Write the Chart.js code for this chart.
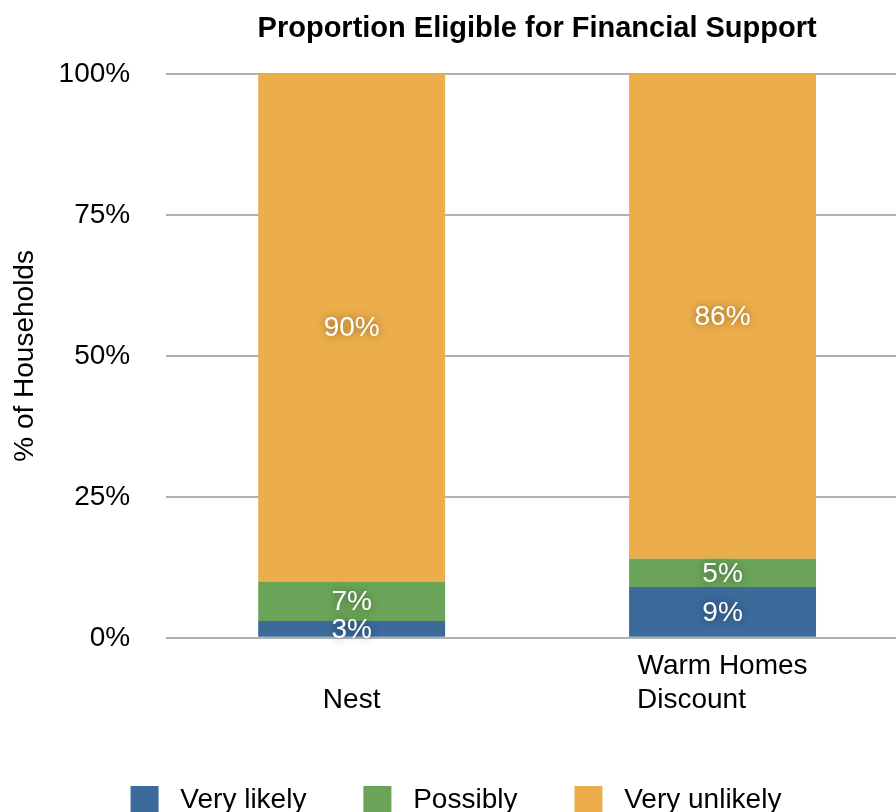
<html>
<head>
  <title>Proportion Eligible for Financial Support</title>
  <style>
    html, body { margin: 0; padding: 0; overflow: hidden; background: #fff; }
    #wrap { width: 910px; height: 824px; }
  </style>
</head>
<body>
<div id="wrap"><canvas id="barChart"></canvas></div>
<script src="https://cdn.jsdelivr.net/npm/chart.js"></script>
<script>
  // data
  const categories = ['Nest', ['Warm Homes', 'Discount']];
  const seriesNames = ['Very likely', 'Possibly', 'Very unlikely'];
  const veryLikely = [3, 9];
  const possibly = [7, 5];
  const veryUnlikely = [90, 86];
  const yTicks = [0, 25, 50, 75, 100];

  const colors = ['#3b6a9b', '#6ba458', '#ecae4b'];
  const FONT = '"Liberation Sans", Arial, Helvetica, sans-serif';

  // value labels inside each segment, white with soft shadow
  const segmentLabels = {
    id: 'segmentLabels',
    afterDatasetsDraw(chart) {
      const ctx = chart.ctx;
      ctx.save();
      ctx.font = '28px ' + FONT;
      ctx.fillStyle = '#fff';
      ctx.textAlign = 'center';
      ctx.textBaseline = 'middle';
      ctx.shadowColor = 'rgba(0,0,0,0.45)';
      ctx.shadowBlur = 8;
      chart.data.datasets.forEach((ds, i) => {
        chart.getDatasetMeta(i).data.forEach((bar, j) => {
          ctx.fillText(ds.data[j] + '%', bar.x, (bar.y + bar.base) / 2 + 1);
        });
      });
      ctx.restore();
    }
  };

  // title centred over the plot area
  const plotTitle = {
    id: 'plotTitle',
    afterDraw(chart) {
      const ctx = chart.ctx;
      const a = chart.chartArea;
      ctx.save();
      ctx.font = 'bold 29px ' + FONT;
      ctx.fillStyle = '#000';
      ctx.textAlign = 'center';
      ctx.textBaseline = 'middle';
      ctx.fillText('Proportion Eligible for Financial Support', (a.left + a.right) / 2, 29);
      ctx.restore();
    }
  };

  new Chart(document.getElementById('barChart'), {
    type: 'bar',
    data: {
      labels: categories,
      datasets: [
        { label: seriesNames[0], data: veryLikely, backgroundColor: colors[0] },
        { label: seriesNames[1], data: possibly, backgroundColor: colors[1] },
        { label: seriesNames[2], data: veryUnlikely, backgroundColor: colors[2] }
      ]
    },
    options: {
      responsive: true,
      maintainAspectRatio: false,
      animation: false,
      layout: { padding: { top: 74, left: 4, right: 2, bottom: 0 } },
      datasets: { bar: { categoryPercentage: 1, barPercentage: 0.504 } },
      plugins: {
        title: { display: false },
        tooltip: { enabled: false },
        legend: {
          position: 'bottom',
          labels: {
            color: '#000',
            font: { family: FONT, size: 28 },
            boxWidth: 28,
            boxHeight: 28,
            padding: 57,
            generateLabels(chart) {
              return Chart.defaults.plugins.legend.labels.generateLabels(chart).map(l => {
                l.text = ' ' + l.text;
                l.lineWidth = 0;
                return l;
              });
            }
          }
        }
      },
      scales: {
        x: {
          stacked: true,
          grid: { display: false, drawTicks: false },
          border: { display: false },
          ticks: {
            color: '#000',
            font: { family: FONT, size: 28 },
            padding: 12,
            maxRotation: 0,
            autoSkip: false,
            callback: function(value, index) {
              const lab = categories[index];
              // single line labels sit on the last line
              if (!Array.isArray(lab)) return ['', lab];
              // keep multi-line label left aligned
              const ctx = this.chart.ctx;
              ctx.save();
              ctx.font = '28px ' + FONT;
              const w = Math.max(...lab.map(s => ctx.measureText(s).width));
              const sp = ctx.measureText(' ').width;
              const out = lab.map(s => s + ' '.repeat(Math.round((w - ctx.measureText(s).width) / sp)));
              ctx.restore();
              return out;
            }
          }
        },
        y: {
          stacked: true,
          min: 0,
          max: 100,
          afterBuildTicks: s => { s.ticks = yTicks.map(v => ({ value: v })); },
          grid: { color: '#b0b0b0', lineWidth: 2, drawTicks: false },
          border: { display: false },
          ticks: {
            color: '#000',
            font: { family: FONT, size: 28 },
            padding: 36,
            callback: v => v + '%'
          },
          title: {
            display: true,
            text: '% of Households',
            color: '#000',
            font: { family: FONT, size: 28 },
            padding: { top: 4, bottom: 17 }
          },
          afterFit: s => { s.width -= 36; }
        }
      }
    },
    plugins: [segmentLabels, plotTitle]
  });
</script>
</body>
</html>
